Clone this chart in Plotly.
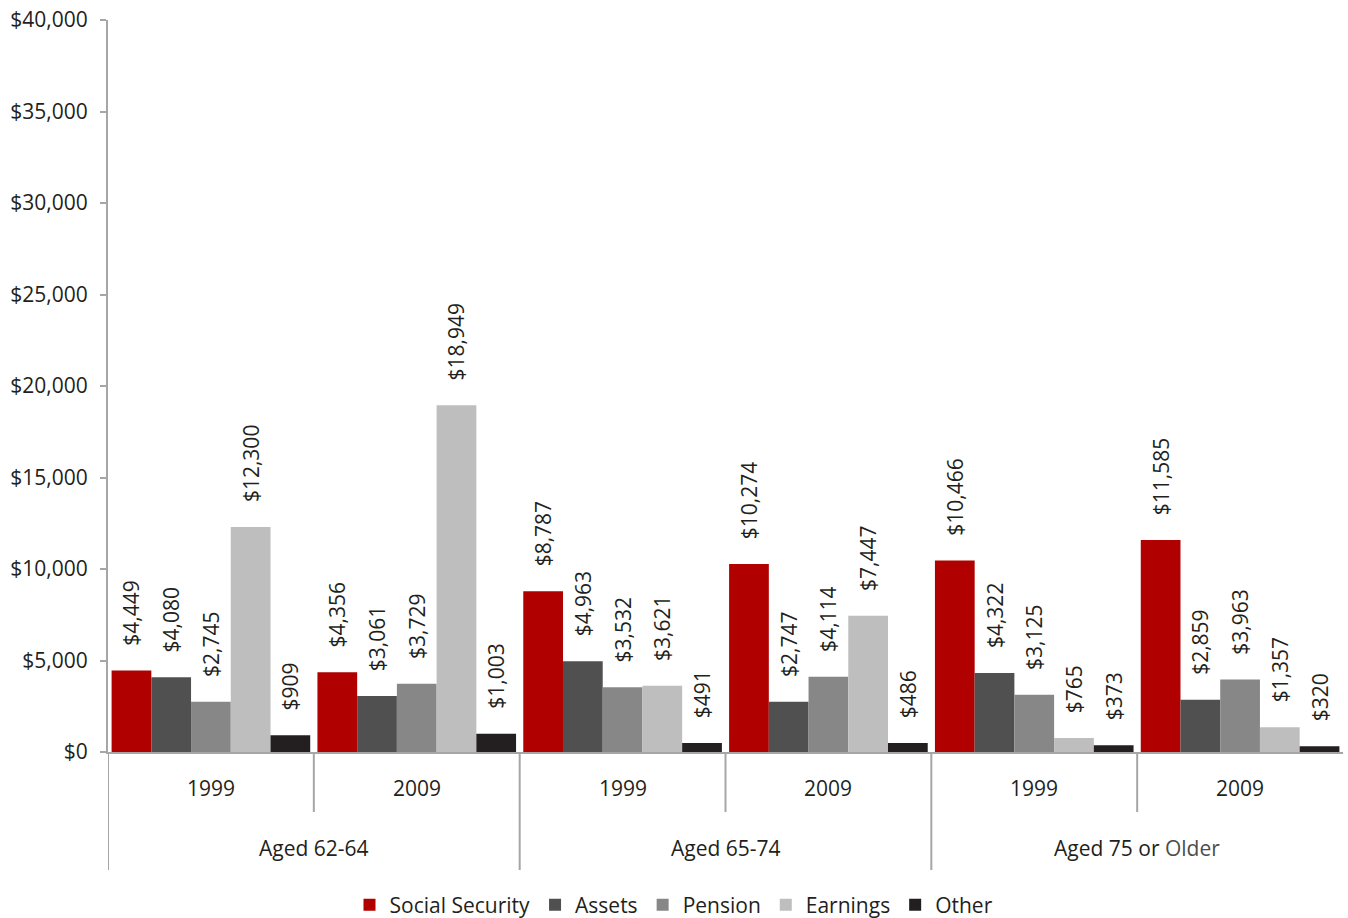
import plotly.graph_objects as go

# Mean annual income by source, in dollars
years = ["1999", "2009", "1999", "2009", "1999", "2009"]
age_groups = ["Aged 62-64", "Aged 65-74", "Aged 75 or <span style='color:#4d4d4d'>Older</span>"]
sources = ["Social Security", "Assets", "Pension", "Earnings", "Other"]
colors = ["#B00000", "#505050", "#878787", "#BEBEBE", "#231F20"]

social_security = [4449, 4356, 8787, 10274, 10466, 11585]
assets = [4080, 3061, 4963, 2747, 4322, 2859]
pension = [2745, 3729, 3532, 4114, 3125, 3963]
earnings = [12300, 18949, 3621, 7447, 765, 1357]
other = [909, 1003, 491, 486, 373, 320]

series = [social_security, assets, pension, earnings, other]

FONT = "Open Sans"
TEXT_COLOR = "#231F20"
AXIS_COLOR = "#A6A6A6"
PAD = "\u00a0" * 4  # lifts the rotated value labels off the bar tops

clusters = list(range(len(years)))

fig = go.Figure()
for name, vals, col in zip(sources, series, colors):
    fig.add_trace(go.Bar(
        x=clusters,
        y=vals,
        name=name,
        marker=dict(color=col, line=dict(width=0)),
        text=[PAD + "${:,}".format(v) for v in vals],
        texttemplate="%{text}",
        textposition="outside",
        textangle=-90,
        constraintext="none",
        cliponaxis=False,
        textfont=dict(family=FONT, size=21, color=TEXT_COLOR),
    ))

shapes = []
# Year dividers below the axis (short) and age-group dividers (long)
for i in range(len(years)):
    left = i - 0.5
    long_line = (i % 2 == 0)
    shapes.append(dict(
        type="line", xref="x", yref="paper", ysizemode="pixel", yanchor=0,
        x0=left, x1=left, y0=0, y1=-118 if long_line else -60,
        line=dict(color=AXIS_COLOR, width=2),
    ))

annotations = []
for i, yr in enumerate(years):
    annotations.append(dict(
        x=i, y=0, xref="x", yref="paper", yshift=-36, showarrow=False,
        text=yr, font=dict(family=FONT, size=21, color=TEXT_COLOR),
        xanchor="center", yanchor="middle",
    ))
for g, label in enumerate(age_groups):
    annotations.append(dict(
        x=2 * g + 0.5, y=0, xref="x", yref="paper", yshift=-96, showarrow=False,
        text=label, font=dict(family=FONT, size=21, color=TEXT_COLOR),
        xanchor="center", yanchor="middle",
    ))

fig.update_layout(
    width=1348, height=918,
    margin=dict(l=108, r=5, t=20, b=166),
    paper_bgcolor="white", plot_bgcolor="white",
    barmode="group", bargap=0.035, bargroupgap=0,
    font=dict(family=FONT, size=21, color=TEXT_COLOR),
    xaxis=dict(
        range=[-0.5, 5.5], showticklabels=False, showgrid=False, zeroline=False,
        showline=True, linecolor=AXIS_COLOR, linewidth=2, ticks="",
    ),
    yaxis=dict(
        range=[0, 40000], dtick=5000, tickprefix="$", tickformat=",",
        showgrid=False, zeroline=False, showline=True, linecolor=AXIS_COLOR,
        linewidth=2, ticks="outside", ticklen=6, tickcolor=AXIS_COLOR, tickwidth=2,
        ticklabelstandoff=8,
        tickfont=dict(family=FONT, size=21, color=TEXT_COLOR),
    ),
    legend=dict(
        orientation="h", xref="container", yref="container",
        x=0.5, xanchor="center", y=0.014, yanchor="middle",
        font=dict(family=FONT, size=21, color=TEXT_COLOR),
        itemwidth=30, tracegroupgap=0,
    ),
    shapes=shapes,
    annotations=annotations,
)

fig.write_html("out.html")
